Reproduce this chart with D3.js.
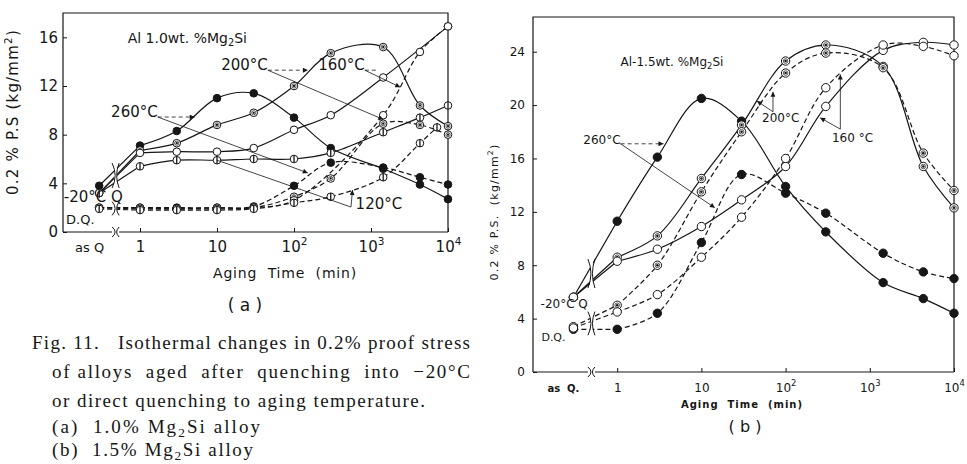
<!DOCTYPE html>
<html>
<head>
<meta charset="utf-8">
<title>Fig. 11 proof stress</title>
<script src="https://cdnjs.cloudflare.com/ajax/libs/d3/7.8.5/d3.min.js"></script>
<style>
  body { margin: 0; background: #fff; }
  text { fill: #161616; white-space: pre; }
</style>
</head>
<body>
<svg id="fig" width="967" height="464"></svg>
<script>
// aging times in minutes, "asQ" = as quenched (left of the axis break)
var timesA = ["asQ", 1, 3, 10, 30, 100, 300, 1440, 4320, 7200, 10000];
// 0.2% proof stress (kg/mm2), Al-1.0wt.%Mg2Si
var a260Q  = [3.8, 7.1, 8.3, 11.0, 11.4, 9.4, 6.9, 5.2, 3.9, null, 2.7];
var a260DQ = [2.0, 2.0, 2.0, 2.0, 2.1, 3.8, 5.7, 5.3, 4.5, null, 3.9];
var a200Q  = [3.2, 6.7, 7.3, 8.8, 9.8, 12.0, 14.7, 15.2, 10.4, null, 8.7];
var a200DQ = [2.0, 2.0, 1.9, 2.0, 2.0, 2.9, 4.4, 8.9, 8.8, null, 8.0];
var a160Q  = [3.2, 6.5, 6.6, 6.6, 6.9, 8.4, 9.6, 12.7, null, null, 16.9];
var a160DQ = [2.0, 1.9, 1.9, 1.9, 2.0, 2.6, null, 9.6, 14.8, null, 16.9];
var a120Q  = [3.2, 5.4, 5.9, 5.9, 6.0, 6.0, 6.5, 8.2, 9.4, null, 10.4];
var a120DQ = [1.9, 1.8, 1.8, 1.8, 1.9, 2.4, 2.9, 4.5, 7.3, 8.6, null];

// Al-1.5wt.%Mg2Si
var timesB = ["asQ", 1, 3, 10, 30, 100, 300, 1440, 4320, 10000];
var b260Q  = [5.6, 11.3, 16.1, 20.5, 18.8, 13.9, 10.5, 6.7, 5.5, 4.4];
var b260DQ = [3.2, 3.2, 4.4, 9.7, 14.8, 13.4, 11.9, 8.9, 7.5, 7.0];
var b200Q  = [5.6, 8.6, 10.2, 14.5, 18.5, 23.3, 24.5, 22.9, 15.4, 12.3];
var b200DQ = [3.4, 5.0, 8.0, 13.5, 18.0, 22.4, 23.9, 22.8, 16.4, 13.6];
var b160Q  = [5.6, 8.3, 9.2, 10.9, 12.9, 15.4, 19.9, 24.1, 24.7, 24.5];
var b160DQ = [3.3, 4.5, 5.8, 8.6, 11.6, 16.0, 21.3, 24.5, 24.4, 23.7];

var xTickDecades = [0, 1, 2, 3, 4];
var xTickBase = ["1", "10", "10", "10", "10"];
var xTickExp  = ["", "", "2", "3", "4"];
var yTicksA = [0, 4, 8, 12, 16];
var yTicksB = [0, 4, 8, 12, 16, 20, 24];

var caption = [
  "Fig. 11.   Isothermal changes in 0.2% proof stress",
  "of alloys  aged  after  quenching  into  \u221220\u00b0C",
  "or direct quenching to aging temperature.",
  "(a)  1.0% Mg\u2082Si alloy",
  "(b)  1.5% Mg\u2082Si alloy"
];

var ink = "#161616";
var svg = d3.select("#fig");

svg.append("defs").append("marker")
  .attr("id", "arr").attr("viewBox", "0 0 10 10")
  .attr("refX", 10).attr("refY", 5)
  .attr("markerUnits", "userSpaceOnUse")
  .attr("markerWidth", 7).attr("markerHeight", 5)
  .attr("orient", "auto")
  .append("path").attr("d", "M0,0 L10,5 L0,10 z").attr("fill", ink);

// text with 2 as sub/superscript
function rich(sel, str, fs) {
  var shift = 0;
  str.split(/([\u2082\u00b2])/).forEach(function(part) {
    if (!part) return;
    var sub = part === "\u2082", sup = part === "\u00b2";
    var target = sub ? 0.2 * fs : sup ? -0.42 * fs : 0;
    var ts = sel.append("tspan").attr("dy", target - shift).text(sub || sup ? "2" : part);
    if (sub || sup) ts.attr("font-size", fs * 0.7);
    shift = target;
  });
}

function breakPath(bx, y0, y1) {
  var m = (y0 + y1) / 2;
  return "M" + (bx - 4) + "," + y0 + "Q" + (bx + 2) + "," + m + " " + (bx - 4) + "," + y1 +
         "M" + (bx + 3) + "," + y0 + "Q" + (bx - 2) + "," + m + " " + (bx + 3) + "," + y1;
}

function drawPanel(p) {
  var g = svg.append("g");
  var x = d3.scaleLinear().domain([-1, 4]).range([p.left, p.right]);
  var y = d3.scaleLinear().domain([0, p.ymax]).range([p.bottom, p.top]);
  var pos = function(t) { return t === "asQ" ? p.asQ : Math.log10(t); };
  var P = function(pt) { return [x(pt[0]), y(pt[1])]; };

  // frame
  var fr = g.append("g").attr("stroke", ink).attr("stroke-width", 1.2).attr("fill", "none");
  fr.append("path").attr("d", "M" + p.left + "," + p.bottom + "V" + p.top + "H" + p.right + "V" + p.bottom);
  var bx = x(p.brk);
  fr.append("path").attr("d", "M" + p.left + "," + p.bottom + "H" + (bx - 4) + "M" + (bx + 3) + "," + p.bottom + "H" + p.right);
  fr.append("path").attr("stroke-width", 1).attr("d", breakPath(bx, p.bottom - 5, p.bottom + 5));

  // axes
  var ya = g.append("g").attr("transform", "translate(" + p.left + ",0)")
    .call(d3.axisLeft(y).tickValues(p.yTicks).tickSize(-4).tickPadding(p.yPad).tickFormat(d3.format("d")));
  ya.select(".domain").remove();
  ya.selectAll(".tick line").attr("stroke", ink);
  ya.selectAll("text").attr("font-family", p.font).attr("font-size", p.tickFs).attr("fill", ink);

  var xa = g.append("g").attr("transform", "translate(0," + p.bottom + ")")
    .call(d3.axisBottom(x).tickValues(xTickDecades).tickSize(-4).tickPadding(p.xPad).tickFormat(""));
  xa.select(".domain").remove();
  xa.selectAll(".tick line").attr("stroke", ink);
  xa.selectAll(".tick text").attr("font-family", p.font).attr("font-size", p.tickFs).attr("fill", ink)
    .each(function(d, i) {
      var t = d3.select(this);
      t.append("tspan").text(xTickBase[i]);
      if (xTickExp[i]) t.append("tspan").attr("dy", -p.tickFs * 0.45).attr("font-size", p.tickFs * 0.7).text(xTickExp[i]);
    });
  g.append("text").attr("x", x(p.asQ) + p.asQdx).attr("y", p.bottom + p.xPad + p.tickFs * 0.71)
    .attr("text-anchor", "end").attr("font-family", p.font).attr("font-size", p.asQFs)
    .attr("font-weight", p.asQWeight).text(p.asQText);

  // axis titles
  var yl = g.append("text").attr("transform", "translate(" + p.ylab[0] + "," + p.ylab[1] + ") rotate(-90)")
    .attr("text-anchor", "middle").attr("font-family", p.font).attr("font-size", p.ylabFs)
    .attr("letter-spacing", p.ylabLs);
  rich(yl, p.ylabText, p.ylabFs);
  g.append("text").attr("x", p.xlab[0]).attr("y", p.xlab[1]).attr("text-anchor", "middle")
    .attr("font-family", p.font).attr("font-size", p.xlabFs).attr("font-weight", p.xlabWeight)
    .attr("letter-spacing", p.xlabLs).text("Aging  Time  (min)");
  g.append("text").attr("x", p.tag[0]).attr("y", p.tag[1]).attr("text-anchor", "middle")
    .attr("font-family", "DejaVu Sans, sans-serif").attr("font-size", p.tagFs).text("( " + p.tagText + " )");

  // lines
  var straight = d3.line().x(function(d) { return x(d.d); }).y(function(d) { return y(d.v); });
  var smooth = d3.line().x(function(d) { return x(d.d); }).y(function(d) { return y(d.v); })
    .curve(d3.curveCatmullRom.alpha(0.5));
  var all = p.series.map(function(s) {
    var pts = p.times.map(function(t, i) { return { d: pos(t), v: s.values[i] }; })
      .filter(function(q) { return q.v != null; });
    return { s: s, pts: pts };
  });
  all.forEach(function(o) {
    [straight(o.pts.slice(0, 2)), smooth(o.pts.slice(1))].forEach(function(dd) {
      g.append("path").attr("d", dd).attr("fill", "none").attr("stroke", ink)
        .attr("stroke-width", p.lw).attr("stroke-dasharray", o.s.dq ? "5,3" : null);
    });
  });

  // breaks on the as-quenched segments
  [false, true].forEach(function(dq) {
    var ys = p.series.filter(function(s) { return !!s.dq === dq; }).map(function(s) {
      var f = (p.brk - p.asQ) / (0 - p.asQ);
      return y(s.values[0] + (s.values[1] - s.values[0]) * f);
    });
    g.append("rect").attr("x", bx - 2).attr("y", d3.min(ys) - 3).attr("width", 3)
      .attr("height", d3.max(ys) - d3.min(ys) + 6).attr("fill", "#fff");
    g.append("path").attr("d", breakPath(bx, d3.min(ys) - 6, d3.max(ys) + 6))
      .attr("fill", "none").attr("stroke", ink).attr("stroke-width", 1);
  });

  // markers
  var r = p.r;
  all.forEach(function(o) {
    o.pts.forEach(function(q) {
      var m = g.append("g").attr("transform", "translate(" + x(q.d) + "," + y(q.v) + ")");
      m.append("circle").attr("r", r).attr("fill", o.s.sym === "filled" ? ink : "#fff")
        .attr("stroke", ink).attr("stroke-width", 1);
      if (o.s.sym === "dot") {
        m.append("circle").attr("r", r * 0.55).attr("fill", "none").attr("stroke", ink).attr("stroke-width", 0.7);
        m.append("circle").attr("r", r * 0.3).attr("fill", ink);
      }
      if (o.s.sym === "bar") {
        m.append("line").attr("y1", -r).attr("y2", r).attr("stroke", ink).attr("stroke-width", 1.3);
      }
    });
  });

  // labels and leaders
  p.notes.forEach(function(n) {
    var t = g.append("text").attr("x", x(n.at[0])).attr("y", y(n.at[1])).attr("dy", "0.35em")
      .attr("text-anchor", n.anchor || "start").attr("font-family", p.font).attr("font-size", n.fs);
    rich(t, n.text, n.fs);
  });
  p.leaders.forEach(function(l) {
    g.append("path").attr("d", d3.line()(l.pts.map(P))).attr("fill", "none").attr("stroke", ink)
      .attr("stroke-width", 0.8).attr("stroke-dasharray", l.dash ? "4,3" : null)
      .attr("marker-end", l.arrow === false ? null : "url(#arr)");
  });
}

drawPanel({
  left: 63, right: 448, top: 13, bottom: 232, ymax: 18, asQ: -0.53, brk: -0.31,
  times: timesA, yTicks: yTicksA, font: "DejaVu Sans, sans-serif",
  tickFs: 15, yPad: 5, xPad: 9, lw: 1.2, r: 3.8,
  asQText: "as Q", asQdx: 5, asQFs: 13, asQWeight: "normal",
  ylab: [18, 112], ylabFs: 15, ylabLs: 1.2, ylabText: "0.2 % P.S (kg/mm\u00b2)",
  xlab: [285, 278], xlabFs: 14, xlabWeight: "normal", xlabLs: 0.8,
  tag: [245, 311], tagFs: 17, tagText: "a",
  series: [
    { values: a260Q, sym: "filled" }, { values: a200Q, sym: "dot" },
    { values: a160Q, sym: "open" }, { values: a120Q, sym: "bar" },
    { values: a260DQ, sym: "filled", dq: true }, { values: a200DQ, sym: "dot", dq: true },
    { values: a160DQ, sym: "open", dq: true }, { values: a120DQ, sym: "bar", dq: true }
  ],
  notes: [
    { text: "Al 1.0wt. %Mg\u2082Si", at: [-0.16, 15.5], fs: 14 },
    { text: "260\u00b0C", at: [0.23, 9.45], anchor: "end", fs: 15 },
    { text: "200\u00b0C", at: [1.66, 13.3], anchor: "end", fs: 15 },
    { text: "160\u00b0C", at: [2.92, 13.3], anchor: "end", fs: 15 },
    { text: "120\u00b0C", at: [2.8, 1.85], fs: 15 },
    { text: "-20\u00b0C Q", at: [-0.99, 2.5], fs: 15 },
    { text: "D.Q.", at: [-0.96, 0.65], fs: 13 }
  ],
  leaders: [
    { pts: [[0.23, 9.45], [0.71, 9.45]], dash: true },
    { pts: [[0.23, 9.45], [2.18, 4.85]] },
    { pts: [[1.66, 13.3], [2.18, 13.3]], dash: true },
    { pts: [[1.66, 13.3], [3.16, 9.25]] },
    { pts: [[2.92, 13.3], [3.08, 13.3]], dash: true, arrow: false },
    { pts: [[2.92, 13.3], [3.38, 11.9]] },
    { pts: [[1.0, 5.9], [2.74, 2.05]], arrow: false },
    { pts: [[2.74, 2.05], [2.76, 3.45]] }
  ]
});

drawPanel({
  left: 533, right: 954, top: 17, bottom: 372, ymax: 26.6, asQ: -0.52, brk: -0.30,
  times: timesB, yTicks: yTicksB, font: "DejaVu Sans, sans-serif",
  tickFs: 12, yPad: 8, xPad: 11, lw: 1.2, r: 4.2,
  asQText: "as  Q.", asQdx: 6, asQFs: 10, asQWeight: "bold",
  ylab: [498, 212], ylabFs: 11, ylabLs: 1.2, ylabText: "0.2 % P.S.  (kg/mm\u00b2)",
  xlab: [742, 408], xlabFs: 10, xlabWeight: "bold", xlabLs: 1,
  tag: [745, 432], tagFs: 16, tagText: "b",
  series: [
    { values: b260Q, sym: "filled" }, { values: b200Q, sym: "dot" },
    { values: b160Q, sym: "open" },
    { values: b260DQ, sym: "filled", dq: true }, { values: b200DQ, sym: "dot", dq: true },
    { values: b160DQ, sym: "open", dq: true }
  ],
  notes: [
    { text: "Al-1.5wt. %Mg\u2082Si", at: [0.04, 22.9], fs: 12 },
    { text: "260\u00b0C", at: [0.04, 17.1], anchor: "end", fs: 12 },
    { text: "200\u00b0C", at: [1.72, 18.75], fs: 12 },
    { text: "160 \u00b0C", at: [2.55, 17.25], fs: 12 },
    { text: "-20\u00b0C Q", at: [-0.91, 4.8], fs: 12 },
    { text: "D.Q.", at: [-0.9, 2.3], fs: 11 }
  ],
  leaders: [
    { pts: [[0.04, 17.1], [0.55, 17.1]], dash: true },
    { pts: [[0.04, 17.1], [1.16, 12.3]] },
    { pts: [[1.85, 19.5], [1.66, 20.3]] },
    { pts: [[1.85, 19.5], [1.85, 21.0]] },
    { pts: [[2.65, 18.2], [2.41, 19.05]] },
    { pts: [[2.65, 18.2], [2.65, 22.3]] }
  ]
});

// caption
var capX = [32, 52, 52, 52, 52];
var capY = [349, 378, 407, 433, 456];
var capW = [438, 418, 373, 208, 201];
caption.forEach(function(c, i) {
  var t = svg.append("text").attr("x", capX[i]).attr("y", capY[i])
    .attr("font-family", "Liberation Serif, serif").attr("font-size", 19)
    .attr("textLength", capW[i]).attr("lengthAdjust", "spacing");
  rich(t, c, 19);
});
</script>
</body>
</html>
